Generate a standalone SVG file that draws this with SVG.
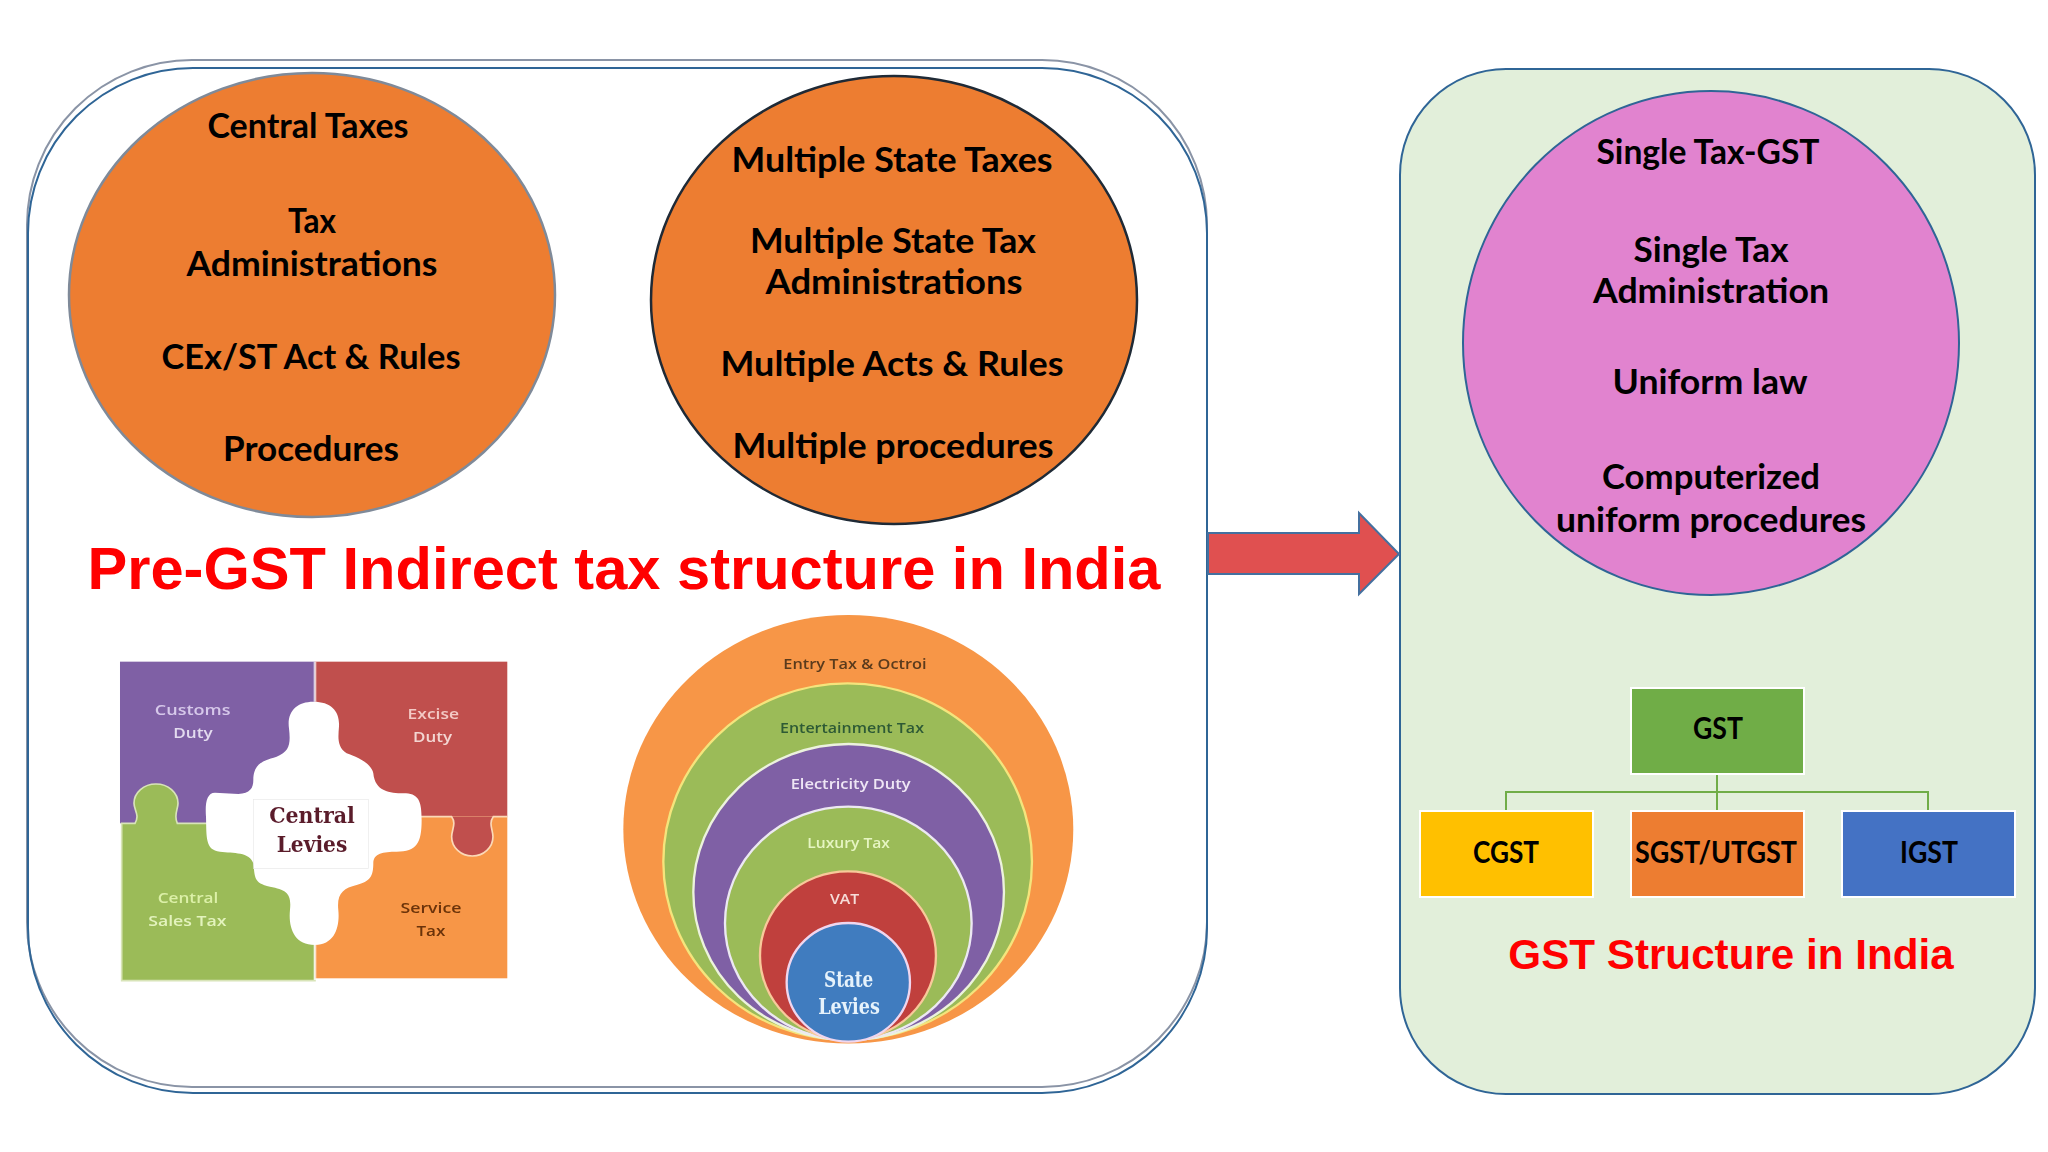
<svg xmlns="http://www.w3.org/2000/svg" width="2048" height="1152" viewBox="0 0 2048 1152">
<defs>
<filter id="soft" x="-5%" y="-5%" width="110%" height="110%"><feGaussianBlur stdDeviation="2"/></filter>
<filter id="softText" x="-5%" y="-20%" width="110%" height="140%"><feGaussianBlur stdDeviation="1.2"/></filter>
</defs>
<style>
.b{font-family:Lato,"Open Sans",sans-serif;font-weight:700;font-size:35px;fill:#000;text-anchor:middle}
.box{font-size:31px}
.t{font-family:"Liberation Sans",Arial,sans-serif;font-weight:700;fill:#f00;text-anchor:middle}
.lbl{font-family:"Open Sans",sans-serif;font-size:45px;text-anchor:middle}
.m{font-weight:600}
.ser{font-family:"DejaVu Serif",serif;font-weight:700;text-anchor:middle}
.r{fill:none;stroke-width:2}
</style>
<rect width="2048" height="1152" fill="#fff"/>
<g id="panel-pre-gst">
<rect class="r" x="27" y="60" width="1180" height="1027" rx="165" ry="165" stroke="#8a94a6"/>
<rect class="r" x="28" y="68" width="1179" height="1025" rx="165" ry="165" stroke="#2f6596"/>
</g>
<g id="panel-gst">
<rect x="1400" y="69" width="635" height="1025" rx="106" ry="106" fill="#e2efda" stroke="#2f6596" stroke-width="2"/>
</g>
<g id="circle-central">
<ellipse cx="312" cy="295" rx="243" ry="222" fill="#ed7d31" stroke="#7f8a99" stroke-width="2.5"/>
<text class="b" x="308" y="138" textLength="201" lengthAdjust="spacingAndGlyphs">Central Taxes</text>
<text class="b" x="312" y="233" textLength="48" lengthAdjust="spacingAndGlyphs">Tax</text>
<text class="b" x="312" y="276" textLength="251" lengthAdjust="spacingAndGlyphs">Administrations</text>
<text class="b" x="311" y="369" textLength="299" lengthAdjust="spacingAndGlyphs">CEx/ST Act &amp; Rules</text>
<text class="b" x="311" y="461" textLength="176" lengthAdjust="spacingAndGlyphs">Procedures</text>
</g>
<g id="circle-state">
<ellipse cx="894" cy="300" rx="243" ry="224" fill="#ed7d31" stroke="#1f2a36" stroke-width="2.5"/>
<text class="b" x="892" y="172" textLength="321" lengthAdjust="spacingAndGlyphs">Multiple State Taxes</text>
<text class="b" x="893" y="253" textLength="286" lengthAdjust="spacingAndGlyphs">Multiple State Tax</text>
<text class="b" x="894" y="294" textLength="257" lengthAdjust="spacingAndGlyphs">Administrations</text>
<text class="b" x="892" y="376" textLength="343" lengthAdjust="spacingAndGlyphs">Multiple Acts &amp; Rules</text>
<text class="b" x="893" y="458" textLength="321" lengthAdjust="spacingAndGlyphs">Multiple procedures</text>
</g>
<g id="title-pre-gst">
<text class="t" x="624" y="589" font-size="59.6">Pre-GST Indirect tax structure in India</text>
</g>
<g id="puzzle-central-levies" transform="translate(90 640) scale(.3333)">
<g filter="url(#soft)">
<rect x="90" y="65" width="585" height="485" fill="#7f60a5"/>
<rect x="675" y="65" width="577" height="465" fill="#c0504d"/>
<path d="M95 550H135C150 525 132 510 132 490A66 58 0 0 1 264 490C264 510 250 525 262 550H675V1022H95Z" fill="#9bbb59" stroke="#d8e4b8" stroke-width="5"/>
<rect x="675" y="530" width="577" height="485" fill="#f79646"/>
<path d="M1085 530C1100 550 1085 570 1085 590A62 58 0 0 0 1209 590C1209 570 1195 550 1210 530Z" fill="#c0504d"/>
<path d="M675 530H1085C1100 550 1085 570 1085 590A62 58 0 0 0 1209 590C1209 570 1195 550 1210 530H1252" fill="none" stroke="#fbd9b8" stroke-width="5"/>
<path d="M670 185C620 185 590 215 597 265C602 310 600 335 560 350C520 362 490 370 490 420C490 445 480 460 445 462L375 458C350 458 345 490 348 530C350 590 345 630 390 635C430 640 480 635 490 670C495 710 490 730 540 740C590 750 605 760 600 810C595 860 610 915 675 915C735 915 750 860 745 810C740 760 760 745 800 735C840 725 850 710 850 670C850 640 880 635 920 635C980 635 995 610 995 540C995 480 985 460 940 460C900 460 855 455 850 400C845 370 800 350 770 340C740 320 745 290 747 260C750 215 725 185 670 185Z" fill="#fff"/>
<path d="M675 65V185M675 915V1020" stroke="#fff" stroke-width="8" fill="none" opacity=".7"/>
</g>
<rect x="490" y="478" width="345" height="208" fill="none" stroke="#e8e8e8" stroke-width="2"/>
<g filter="url(#softText)">
<text class="lbl m" x="308" y="225" fill="#d6c8ea" textLength="227" lengthAdjust="spacingAndGlyphs">Customs</text>
<text class="lbl m" x="309" y="293" fill="#e3dbef" textLength="118" lengthAdjust="spacingAndGlyphs">Duty</text>
<text class="lbl m" x="1030" y="238" fill="#f3c9c5" textLength="154" lengthAdjust="spacingAndGlyphs">Excise</text>
<text class="lbl m" x="1028" y="305" fill="#f3d6d2" textLength="117" lengthAdjust="spacingAndGlyphs">Duty</text>
<text class="lbl m" x="294" y="790" fill="#dcf0a8" textLength="182" lengthAdjust="spacingAndGlyphs">Central</text>
<text class="lbl m" x="292" y="857" fill="#e3f3bd" textLength="235" lengthAdjust="spacingAndGlyphs">Sales Tax</text>
<text class="lbl m" x="1023" y="820" fill="#6b3308" textLength="183" lengthAdjust="spacingAndGlyphs">Service</text>
<text class="lbl m" x="1023" y="888" fill="#6b3308" textLength="87" lengthAdjust="spacingAndGlyphs">Tax</text>
<text class="ser" x="666" y="550" font-size="66" fill="#5a1b2b" textLength="257" lengthAdjust="spacingAndGlyphs">Central</text>
<text class="ser" x="666" y="637" font-size="66" fill="#5a1b2b" textLength="212" lengthAdjust="spacingAndGlyphs">Levies</text>
</g>
</g>
<g id="circles-state-levies" transform="translate(600 600) scale(.3333)">
<g filter="url(#soft)">
<ellipse cx="745" cy="688" rx="675" ry="643" fill="#f79646"/>
<ellipse cx="743" cy="785" rx="553" ry="535" fill="#9bbb59" stroke="#f4e47c" stroke-width="7"/>
<ellipse cx="746" cy="876" rx="466" ry="444" fill="#7f60a5" stroke="#ecf2dd" stroke-width="7"/>
<ellipse cx="745" cy="970" rx="370" ry="350" fill="#9bbb59" stroke="#ece8f2" stroke-width="7"/>
<ellipse cx="744" cy="1067" rx="264" ry="253" fill="#c0403d" stroke="#f8c99a" stroke-width="7"/>
<ellipse cx="745" cy="1147" rx="185" ry="178" fill="#3f7cbf" stroke="#f0d6ee" stroke-width="7"/>
</g>
<g filter="url(#softText)">
<text class="lbl m" x="765" y="206" fill="#5a3a1c" textLength="430" lengthAdjust="spacingAndGlyphs">Entry Tax &amp; Octroi</text>
<text class="lbl m" x="756" y="398" fill="#2d5a35" textLength="432" lengthAdjust="spacingAndGlyphs">Entertainment Tax</text>
<text class="lbl m" x="752" y="567" fill="#efe6f5" textLength="360" lengthAdjust="spacingAndGlyphs">Electricity Duty</text>
<text class="lbl m" x="746" y="745" fill="#e6f5c2" textLength="248" lengthAdjust="spacingAndGlyphs">Luxury Tax</text>
<text class="lbl m" x="734" y="912" fill="#f6dcd8" textLength="88" lengthAdjust="spacingAndGlyphs">VAT</text>
<text class="ser" x="746" y="1160" font-size="66" fill="#e6f2fb" textLength="148" lengthAdjust="spacingAndGlyphs">State</text>
<text class="ser" x="747" y="1243" font-size="66" fill="#e6f2fb" textLength="185" lengthAdjust="spacingAndGlyphs">Levies</text>
</g>
</g>
<g id="circle-gst">
<ellipse cx="1711" cy="343" rx="248" ry="252" fill="#e183cf" stroke="#2f6596" stroke-width="2"/>
<text class="b" x="1708" y="164" textLength="223" lengthAdjust="spacingAndGlyphs">Single Tax-GST</text>
<text class="b" x="1711" y="262" textLength="155" lengthAdjust="spacingAndGlyphs">Single Tax</text>
<text class="b" x="1711" y="303" textLength="236" lengthAdjust="spacingAndGlyphs">Administration</text>
<text class="b" x="1710" y="394" textLength="195" lengthAdjust="spacingAndGlyphs">Uniform law</text>
<text class="b" x="1711" y="489" textLength="218" lengthAdjust="spacingAndGlyphs">Computerized</text>
<text class="b" x="1711" y="532" textLength="310" lengthAdjust="spacingAndGlyphs">uniform procedures</text>
</g>
<g id="connectors">
<path d="M1717 775V810M1506 810V792H1928V810" fill="none" stroke="#70ad47" stroke-width="2"/>
<path d="M1208 533H1359V513L1399 554L1359 594V574H1208Z" fill="#e05050" stroke="#44709f" stroke-width="2"/>
</g>
<g id="box-gst"><rect x="1631" y="688" width="173" height="86" fill="#70ad47" stroke="#fff" stroke-width="2"/><text class="b box" x="1718" y="739" textLength="50" lengthAdjust="spacingAndGlyphs">GST</text></g>
<g id="box-cgst"><rect x="1420" y="811" width="173" height="86" fill="#ffc000" stroke="#fff" stroke-width="2"/><text class="b box" x="1506" y="863" textLength="66" lengthAdjust="spacingAndGlyphs">CGST</text></g>
<g id="box-sgst"><rect x="1631" y="811" width="173" height="86" fill="#ed7d31" stroke="#fff" stroke-width="2"/><text class="b box" x="1716" y="863" textLength="162" lengthAdjust="spacingAndGlyphs">SGST/UTGST</text></g>
<g id="box-igst"><rect x="1842" y="811" width="173" height="86" fill="#4472c4" stroke="#fff" stroke-width="2"/><text class="b box" x="1929" y="863" textLength="58" lengthAdjust="spacingAndGlyphs">IGST</text></g>
<g id="title-gst"><text class="t" x="1731" y="969" font-size="42.2">GST Structure in India</text></g>
</svg>
